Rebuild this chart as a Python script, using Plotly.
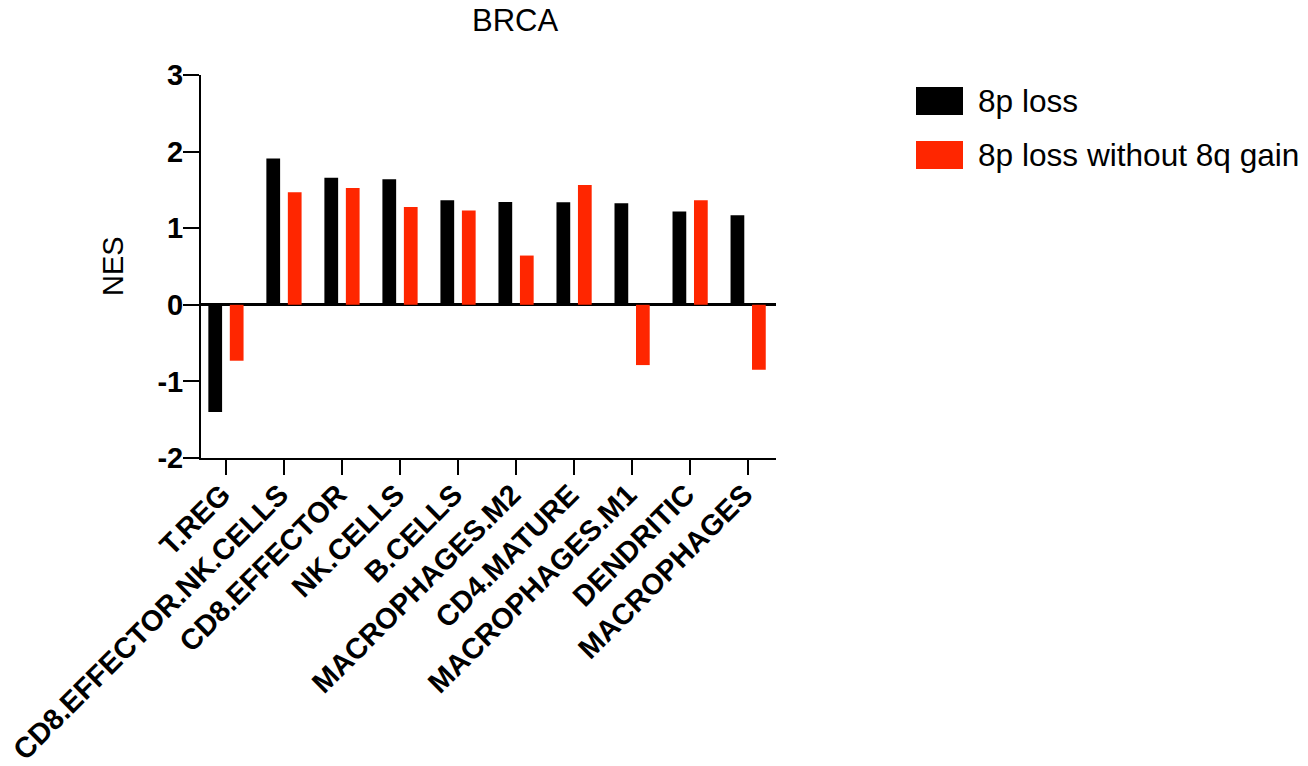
import plotly.graph_objects as go

categories = ["T.REG", "CD8.EFFECTOR.NK.CELLS", "CD8.EFFECTOR", "NK.CELLS", "B.CELLS",
              "MACROPHAGES.M2", "CD4.MATURE", "MACROPHAGES.M1", "DENDRITIC", "MACROPHAGES"]
loss_8p = [-1.40, 1.91, 1.66, 1.64, 1.365, 1.343, 1.339, 1.326, 1.217, 1.17]
loss_8p_no_8q = [-0.73, 1.47, 1.526, 1.278, 1.23, 0.643, 1.565, -0.787, 1.365, -0.848]
series_names = ["8p loss", "8p loss without 8q gain"]
y_ticks = [-2, -1, 0, 1, 2, 3]

BLACK = "#000000"
RED = "#FF2600"
FONT = "Arial, Liberation Sans, Helvetica, sans-serif"

fig = go.Figure()
fig.add_trace(go.Bar(x=categories, y=loss_8p, name=series_names[0],
                     marker=dict(color=BLACK, line=dict(width=0)), showlegend=False))
fig.add_trace(go.Bar(x=categories, y=loss_8p_no_8q, name=series_names[1],
                     marker=dict(color=RED, line=dict(width=0)), showlegend=False))

L, R, T, B = 201, 532, 75, 308
W, H = 1308, 766
pw = W - L - R
ph = H - T - B

def px(xp):
    return (xp - L) / pw

def py(yp):
    return (H - B - yp) / ph

fig.update_layout(
    width=W, height=H,
    margin=dict(l=L, r=R, t=T, b=B, pad=0, autoexpand=False),
    paper_bgcolor="white", plot_bgcolor="white",
    barmode="group", bargap=0.26, bargroupgap=0.36,
    font=dict(family=FONT, color="black"),
    xaxis=dict(
        type="category", range=[-0.43, 9.48], automargin=False,
        showline=True, linecolor="black", linewidth=2,
        ticks="outside", ticklen=15, tickwidth=2, tickcolor="black",
        tickangle=-45, tickfont=dict(family=FONT, size=29, color="black", weight="bold"),
        ticklabelstandoff=-9, ticklabelshift=-4,
        showgrid=False, zeroline=False,
    ),
    yaxis=dict(
        range=[-2, 3], tickvals=y_ticks, ticktext=[str(v) for v in y_ticks], automargin=False,
        showline=True, linecolor="black", linewidth=2,
        ticks="outside", ticklen=16, tickwidth=2, tickcolor="black",
        tickfont=dict(family=FONT, size=29, color="black", weight="bold"),
        ticklabelstandoff=-6,
        showgrid=False, zeroline=True, zerolinecolor="black", zerolinewidth=2.5,
    ),
)

# title and y-axis title
fig.add_annotation(x=px(515), y=py(20.5), xref="paper", yref="paper", text="BRCA",
                   showarrow=False, xanchor="center", yanchor="middle",
                   font=dict(family=FONT, size=31, color="black"))
fig.add_annotation(x=px(113), y=py(266), xref="paper", yref="paper", text="NES",
                   showarrow=False, xanchor="center", yanchor="middle", textangle=-90,
                   font=dict(family=FONT, size=29, color="black"))

# legend
legend_rows = [(series_names[0], BLACK, 101), (series_names[1], RED, 155)]
for name, col, cy in legend_rows:
    fig.add_shape(type="rect", xref="paper", yref="paper",
                  x0=px(916), x1=px(963), y0=py(cy - 14), y1=py(cy + 14),
                  fillcolor=col, line=dict(width=0))
    fig.add_annotation(x=px(976), y=py(cy), xref="paper", yref="paper", text=name,
                       showarrow=False, xanchor="left", yanchor="middle",
                       font=dict(family=FONT, size=31.6, color="black"))

fig.write_html("out.html")
